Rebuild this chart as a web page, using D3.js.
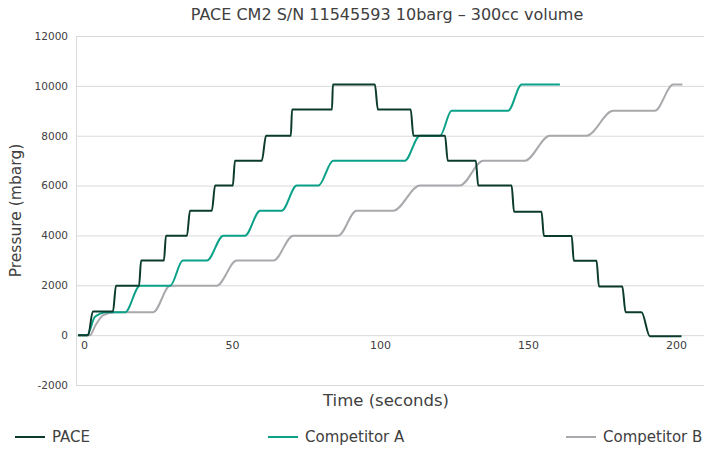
<!DOCTYPE html>
<html>
<head>
<meta charset="utf-8">
<script src="https://cdn.jsdelivr.net/npm/d3@7"></script>
<style>
  body { margin: 0; background: #fff; }
  svg text { font-family: "DejaVu Sans", sans-serif; fill: #404040; }
</style>
</head>
<body>
<div id="chart"></div>
<script>
// values: [seconds, mbarg]
const seriesNames = ["PACE", "Competitor A", "Competitor B"]
const seriesColors = ["#0b3b2c", "#0aa189", "#a9a9ad"]

const pace = [
  [-2, 0], [1.4, 0], [3.0, 950], [9.8, 950], [10.8, 1980], [18.6, 1980],
  [19.3, 2990], [27.0, 2990], [27.7, 3990], [34.8, 3990], [35.8, 4990],
  [43.2, 4990], [44.3, 6000], [50.3, 6000], [51.0, 7000], [60.1, 7000],
  [61.5, 8000], [69.9, 8000], [70.3, 9050], [83.8, 9050], [84.1, 10050],
  [98.3, 10050], [99.3, 9050], [110.4, 9050], [111.3, 8000], [122.0, 8000],
  [122.9, 7000], [132.4, 7000], [133.2, 6000], [144.5, 6000], [145.3, 4950],
  [154.6, 4950], [155.4, 3980], [164.8, 3980], [165.5, 2980], [173.2, 2980],
  [174.0, 1950], [181.9, 1950], [183.0, 920], [188.4, 920], [191.2, -40],
  [201.9, -40]
]

const competitorA = [
  [-2, 0], [1.1, 0], [3.7, 740], [7.7, 920], [13.9, 920], [18.9, 1980],
  [29.1, 1980], [33.4, 2990], [41.5, 2990], [47.1, 3990], [54.4, 3990],
  [59.5, 4990], [66.8, 4990], [71.9, 6000], [79.2, 6000], [84.2, 7000],
  [108.4, 7000], [113.5, 8000], [120.3, 8000], [124.2, 9000], [143.3, 9000],
  [147.9, 10050], [160.8, 10050]
]

const competitorB = [
  [-2, 0], [2.0, 0], [3.9, 400], [6.5, 800], [10.5, 920], [23.4, 920],
  [29.1, 1980], [44.8, 1980], [51.6, 2990], [64.0, 2990], [70.7, 3990],
  [85.9, 3990], [92.1, 4990], [104.5, 4990], [113.5, 6000], [127.0, 6000],
  [134.9, 7000], [149.0, 7000], [157.4, 8000], [169.8, 8000], [178.8, 9000],
  [192.9, 9000], [199.1, 10050], [202.2, 10050]
]

const xTicks = [0, 50, 100, 150, 200]
const yTicks = [-2000, 0, 2000, 4000, 6000, 8000, 10000, 12000]

const width = 704
const height = 451
const margin = {top: 36, right: 0, bottom: 66, left: 76}

const x = d3.scaleLinear([-2.7, 209.5], [margin.left, width - margin.right])
const y = d3.scaleLinear([-2000, 12000], [height - margin.bottom, margin.top])

const svg = d3.create("svg")
  .attr("width", width)
  .attr("height", height)

// horizontal grid + y labels (plain hyphen for the negative tick)
svg.append("g")
  .attr("transform", `translate(${margin.left},0)`)
  .call(d3.axisLeft(y)
    .tickValues(yTicks)
    .tickFormat(d => String(d))
    .tickSize(-(width - margin.left - margin.right))
    .tickSizeOuter(0)
    .tickPadding(8))
  .call(g => g.select(".domain").attr("stroke", "#d9d9d9"))
  .call(g => g.selectAll(".tick line").attr("stroke", "#d9d9d9"))
  .call(g => g.selectAll(".tick text").attr("font-size", 10.5))

// x labels sit just under the zero line
svg.append("g")
  .attr("transform", `translate(0,${y(0)})`)
  .call(d3.axisBottom(x)
    .tickValues(xTicks)
    .tickSize(0)
    .tickPadding(6))
  .call(g => g.select(".domain").remove())
  .call(g => g.selectAll(".tick text").attr("font-size", 11))

const line = d3.line()
  .x(d => x(d[0]))
  .y(d => y(d[1]))
  .curve(d3.curveMonotoneX)

const allSeries = [pace, competitorA, competitorB]

// PACE drawn last so it sits on top
svg.append("g")
  .attr("fill", "none")
  .attr("stroke-width", 2)
  .attr("stroke-linejoin", "round")
  .selectAll("path")
  .data([2, 1, 0])
  .join("path")
    .attr("stroke", i => seriesColors[i])
    .attr("d", i => line(allSeries[i]))

svg.append("text")
  .attr("x", 387)
  .attr("y", 14)
  .attr("text-anchor", "middle")
  .attr("dominant-baseline", "central")
  .attr("font-size", 16)
  .text("PACE CM2 S/N 11545593 10barg \u2013 300cc volume")

svg.append("text")
  .attr("transform", `translate(16,${(margin.top + height - margin.bottom) / 2}) rotate(-90)`)
  .attr("text-anchor", "middle")
  .attr("dominant-baseline", "central")
  .attr("font-size", 15.5)
  .text("Pressure (mbarg)")

svg.append("text")
  .attr("x", 386)
  .attr("y", 400)
  .attr("text-anchor", "middle")
  .attr("dominant-baseline", "central")
  .attr("font-size", 16.5)
  .text("Time (seconds)")

const legendX = [15, 268, 566]
const legend = svg.append("g")
  .selectAll("g")
  .data(seriesNames)
  .join("g")
    .attr("transform", (d, i) => `translate(${legendX[i]},437)`)

legend.append("line")
  .attr("x1", 0)
  .attr("x2", 30)
  .attr("stroke", (d, i) => seriesColors[i])
  .attr("stroke-width", 2)

legend.append("text")
  .attr("x", 37)
  .attr("dominant-baseline", "central")
  .attr("font-size", 15)
  .text(d => d)

d3.select("#chart").append(() => svg.node())
</script>
</body>
</html>
